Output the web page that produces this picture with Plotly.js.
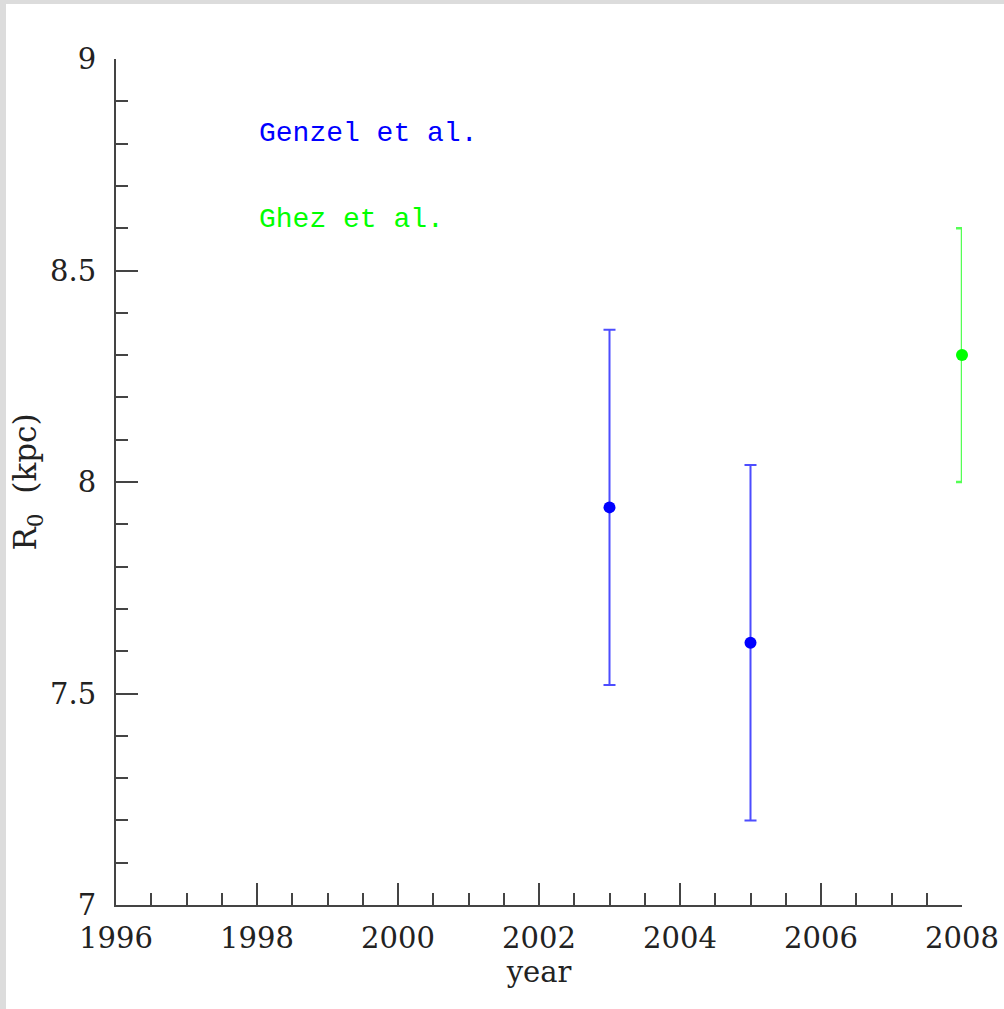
<!DOCTYPE html>
<html>
<head>
<meta charset="utf-8">
<script src="https://cdn.plot.ly/plotly-3.0.1.min.js"></script>
<style>
  html, body { margin: 0; padding: 0; background: #ffffff; }
  #frame { position: absolute; left: 0; top: 0; width: 1004px; height: 1009px;
           box-sizing: border-box; border-top: 4px solid #dcdcdc; border-left: 6px solid #dcdcdc; background: #fff; }
  #chart { width: 998px; height: 1005px; }
</style>
</head>
<body>
<div id="frame"><div id="chart"></div></div>
<script>
// Data
const genzelYears = [2003, 2005];
const genzelR0 = [7.94, 7.62];
const genzelErr = [0.42, 0.42];

const ghezYears = [2008];
const ghezR0 = [8.30];
const ghezErr = [0.30];

const seriesNames = ["Genzel et al.", "Ghez et al."];
const seriesColors = ["#0000ff", "#00ff00"];
const barColors = ["#4d4dff", "#55ff55"];

const xTickVals = [1996, 1998, 2000, 2002, 2004, 2006, 2008];
const yTickVals = [7, 7.5, 8, 8.5, 9];
const yTickText = ["7", "7.5", "8", "8.5", "9"];

const serif = "DejaVu Serif, Liberation Serif, serif";

const traces = [
  {
    x: genzelYears, y: genzelR0, type: "scatter", mode: "markers", name: seriesNames[0],
    marker: { color: seriesColors[0], size: 12 },
    error_y: { type: "data", array: genzelErr, visible: true, color: barColors[0], thickness: 2, width: 6 },
    cliponaxis: false, showlegend: false, hoverinfo: "x+y"
  },
  {
    x: ghezYears, y: ghezR0, type: "scatter", mode: "markers", name: seriesNames[1],
    marker: { color: seriesColors[1], size: 12 },
    error_y: { type: "data", array: ghezErr, visible: true, color: barColors[1], thickness: 2.5, width: 6 },
    cliponaxis: false, showlegend: false, hoverinfo: "x+y"
  }
];

const axisColor = "#444444";

const layout = {
  width: 998, height: 1005,
  margin: { l: 110, r: 42, t: 55, b: 104 },
  paper_bgcolor: "#ffffff", plot_bgcolor: "#ffffff",
  showlegend: false,
  xaxis: {
    range: [1996, 2008], tickvals: xTickVals, ticktext: xTickVals.map(String),
    showgrid: false, zeroline: false, showline: true, linecolor: axisColor, linewidth: 2,
    ticks: "inside", ticklen: 22, tickwidth: 2, tickcolor: axisColor,
    minor: { dtick: 0.5, tick0: 1996, ticks: "inside", ticklen: 12, tickwidth: 2, tickcolor: axisColor, showgrid: false },
    tickfont: { family: serif, size: 29, color: "#222" },
    ticklabelstandoff: 6,
    title: { text: "year", font: { family: serif, size: 29, color: "#222" }, standoff: 2 }
  },
  yaxis: {
    range: [7, 9], tickvals: yTickVals, ticktext: yTickText,
    showgrid: false, zeroline: false, showline: true, linecolor: axisColor, linewidth: 2,
    ticks: "inside", ticklen: 22, tickwidth: 2, tickcolor: axisColor,
    minor: { dtick: 0.1, tick0: 7, ticks: "inside", ticklen: 12, tickwidth: 2, tickcolor: axisColor, showgrid: false },
    tickfont: { family: serif, size: 29, color: "#222" },
    ticklabelstandoff: 12,
    title: { text: "R<sub>0</sub>  (kpc)", font: { family: serif, size: 31, color: "#222" }, standoff: 4 }
  },
  annotations: [
    { x: 1998, y: 8.825, xref: "x", yref: "y", text: seriesNames[0], showarrow: false,
      xanchor: "left", yanchor: "middle", font: { family: "Liberation Mono, DejaVu Sans Mono, monospace", size: 28, color: seriesColors[0] } },
    { x: 1998, y: 8.62, xref: "x", yref: "y", text: seriesNames[1], showarrow: false,
      xanchor: "left", yanchor: "middle", font: { family: "Liberation Mono, DejaVu Sans Mono, monospace", size: 28, color: seriesColors[1] } }
  ]
};

Plotly.newPlot("chart", traces, layout, { displayModeBar: false, staticPlot: true });
</script>
</body>
</html>
